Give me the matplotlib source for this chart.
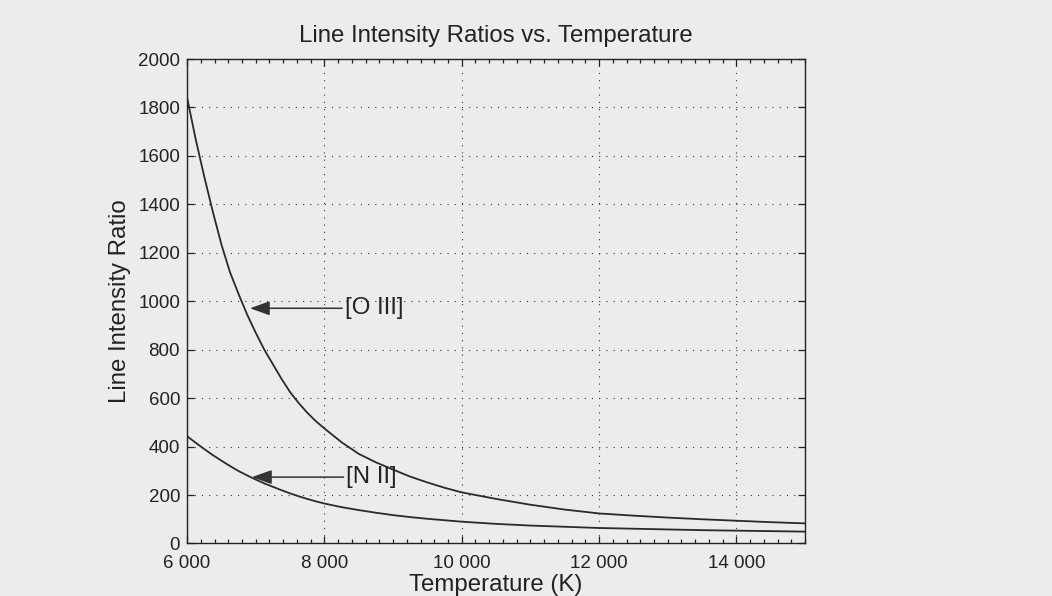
import matplotlib
matplotlib.use("Agg")
import matplotlib.pyplot as plt
from matplotlib.ticker import MultipleLocator, FuncFormatter

# ---- data ----
temperature = [6000, 6125, 6250, 6375, 6500, 6625, 6750, 6875, 7000, 7125,
               7250, 7375, 7500, 7625, 7750, 7875, 8000, 8250, 8500, 8750,
               9000, 9250, 9500, 9750, 10000, 10500, 11000, 11500, 12000, 12500,
               13000, 13500, 14000, 14500, 15000]
ratio_o3 = [1842, 1670, 1515, 1370, 1235, 1120, 1030, 945, 870, 800,
            740, 680, 625, 580, 540, 505, 475, 418, 370, 335,
            305, 276, 252, 230, 211, 184, 160, 140, 124, 115,
            107, 100, 94, 88, 83]
ratio_n2 = [443, 416, 390, 365, 342, 320, 299, 281, 264, 248,
            234, 220, 207, 195, 184, 174, 165, 150, 138, 127,
            117, 109, 102, 96, 90, 81, 74, 69, 64, 61,
            58, 55, 53, 51, 49]
x_ticks = [6000, 8000, 10000, 12000, 14000]
y_ticks = list(range(0, 2001, 200))
labels = ["[O III]", "[N II]"]
label_arrow_tip = [(6916, 971), (6945, 274)]
label_text_pos = [(8300, 971), (8320, 274)]

bg = "#ececec"
ink = "#222222"
plt.rcParams["font.family"] = ["Liberation Sans", "DejaVu Sans"]

fig = plt.figure(figsize=(10.52, 5.96), dpi=100, facecolor=bg)
ax = fig.add_axes([0.1778, 0.0881, 0.5875, 0.8129], facecolor=bg)

ax.plot(temperature, ratio_o3, color="#2a2a2a", lw=1.3)
ax.plot(temperature, ratio_n2, color="#2a2a2a", lw=1.3)

ax.set_xlim(6000, 15000)
ax.set_ylim(0, 2000)
ax.set_xticks(x_ticks)
ax.set_yticks(y_ticks)
ax.xaxis.set_minor_locator(MultipleLocator(200))
ax.xaxis.set_major_formatter(FuncFormatter(lambda v, p: f"{int(v):,}".replace(",", " ")))

ax.grid(True, which="major", color="#333333", lw=0.8, linestyle=(0, (1, 5.5)))
ax.tick_params(which="both", direction="in", top=True, right=True, colors=ink,
               labelsize=13.5, width=0.9)
ax.tick_params(which="major", length=5)
ax.tick_params(which="minor", length=3)
ax.tick_params(axis="y", which="major", pad=5)
ax.tick_params(axis="x", which="major", pad=8)
for s in ax.spines.values():
    s.set_color(ink)
    s.set_linewidth(1.0)

fs = 17.3
ax.set_title("Line Intensity Ratios vs. Temperature", fontsize=fs, color=ink, pad=12)
ax.set_xlabel("Temperature (K)", fontsize=fs, color=ink, labelpad=2)
ax.set_ylabel("Line Intensity Ratio", fontsize=fs, color=ink, labelpad=5)

for lab, tip, pos in zip(labels, label_arrow_tip, label_text_pos):
    ax.annotate(lab, xy=tip, xytext=pos, ha="left", va="center", fontsize=fs, color=ink,
                arrowprops=dict(arrowstyle="-|>,head_length=0.7,head_width=0.25",
                                color="#333333", lw=1.1, shrinkA=0, shrinkB=0))

fig.savefig("out.png", dpi=100, facecolor=bg)
